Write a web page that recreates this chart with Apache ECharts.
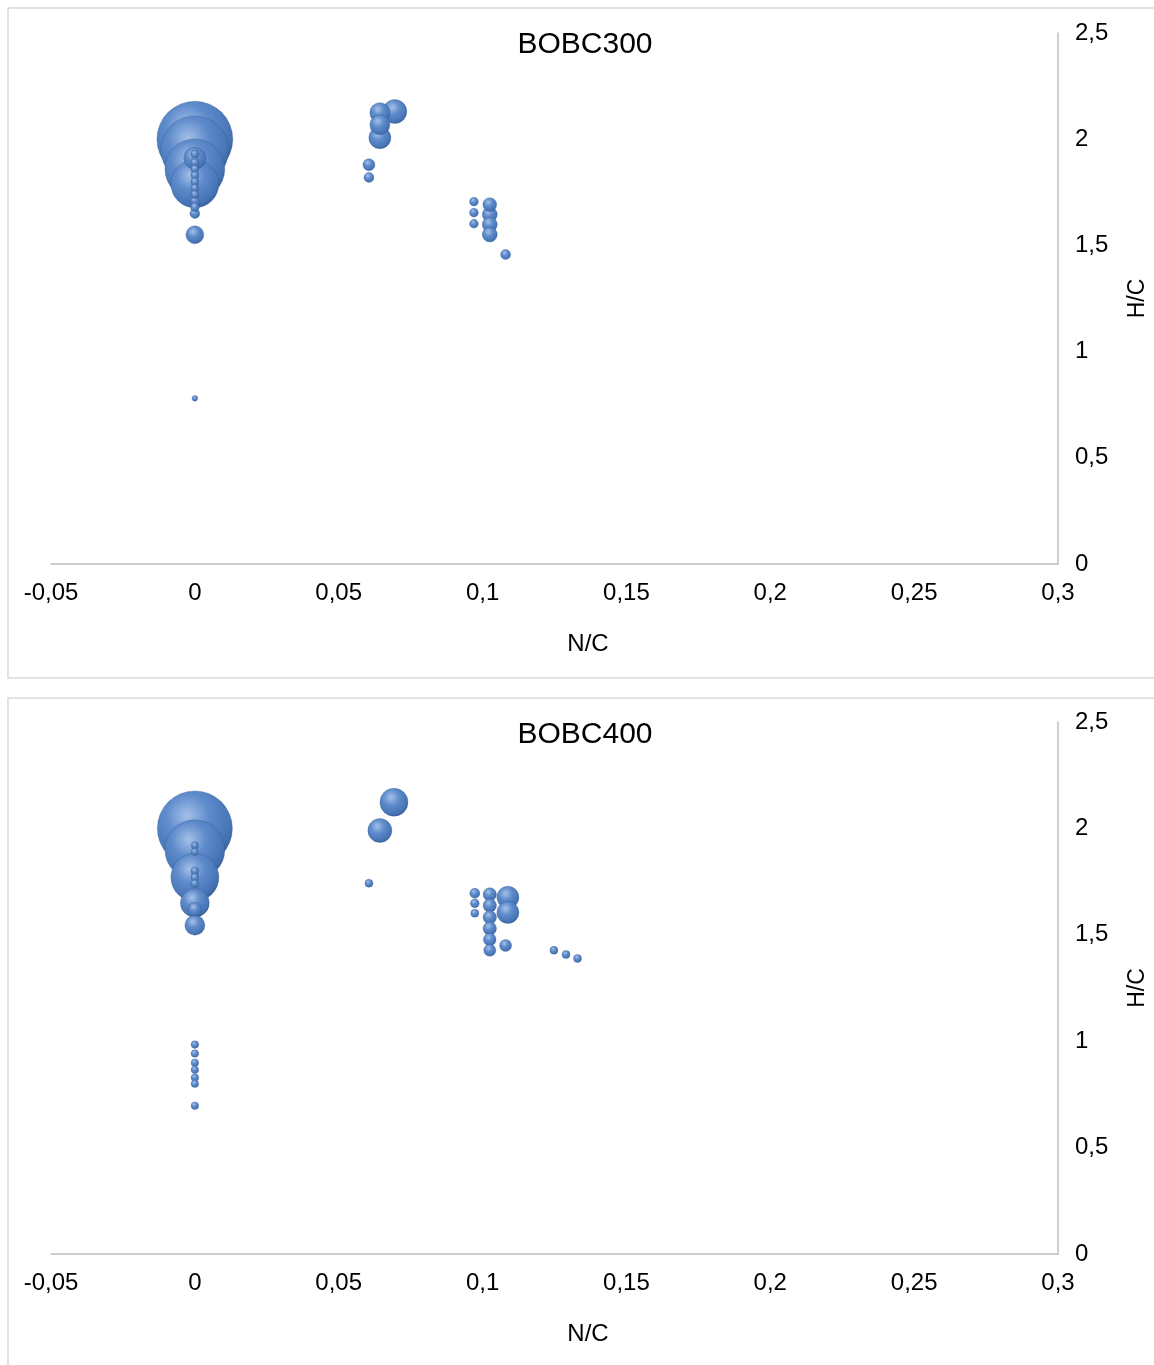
<!DOCTYPE html>
<html>
<head>
<meta charset="utf-8">
<title>BOBC300 / BOBC400 – H/C vs N/C</title>
<script src="https://cdn.jsdelivr.net/npm/echarts@6/dist/echarts.min.js"></script>
<style>
  html, body { margin: 0; padding: 0; background: #ffffff; }
  #chart { width: 1154px; height: 1365px; }
</style>
</head>
<body>
<div id="chart"></div>
<script>
// Axis ticks
const xTicks = [-0.05, 0, 0.05, 0.1, 0.15, 0.2, 0.25, 0.3];
const yTicks = [0, 0.5, 1, 1.5, 2, 2.5];

// Panel titles
const panelTitles = ['BOBC300', 'BOBC400'];

// Each point: [N/C, H/C, bubble size]
const bobc300 = [
  [0, 2.00, 90], [0, 1.95, 72], [0, 1.86, 56], [0, 1.79, 36], [0, 1.91, 7.6],
  [0, 1.93, 1], [0, 1.89, 1], [0, 1.86, 1], [0, 1.83, 1], [0, 1.80, 1],
  [0, 1.77, 1], [0, 1.74, 1], [0, 1.71, 1.2], [0, 1.68, 1.2], [0, 1.65, 1.5],
  [0, 1.55, 5], [0, 0.78, 0.5],
  [0.0695, 2.13, 9], [0.0643, 2.125, 6.25], [0.0643, 2.068, 6.25], [0.0643, 2.007, 7.6],
  [0.0605, 1.88, 2.25], [0.0605, 1.82, 1.56],
  [0.097, 1.706, 1.2], [0.097, 1.654, 1.2], [0.097, 1.602, 1.2],
  [0.1025, 1.692, 3], [0.1025, 1.645, 3.5], [0.1025, 1.598, 3.5], [0.1025, 1.551, 3.5],
  [0.108, 1.457, 1.56]
];

const bobc400 = [
  [0, 2.00, 88], [0, 1.90, 56], [0, 1.77, 36], [0, 1.65, 13], [0, 1.62, 3], [0, 1.545, 6.25],
  [0, 1.92, 0.8], [0, 1.89, 0.8], [0, 1.80, 1], [0, 1.77, 1], [0, 1.74, 1],
  [0, 0.984, 0.9], [0, 0.942, 0.9], [0, 0.899, 0.9], [0, 0.866, 0.9],
  [0, 0.829, 0.9], [0, 0.800, 0.9], [0, 0.697, 0.9],
  [0.0692, 2.123, 12.25], [0.0643, 1.99, 9], [0.0605, 1.742, 1],
  [0.0973, 1.695, 1.56], [0.0973, 1.648, 1.2], [0.0973, 1.601, 1],
  [0.1025, 1.69, 2.8], [0.1025, 1.638, 2.8], [0.1025, 1.582, 2.8],
  [0.1025, 1.530, 2.8], [0.1025, 1.478, 2.5], [0.1025, 1.427, 2.25],
  [0.1088, 1.676, 7.6], [0.1088, 1.605, 7.6], [0.108, 1.45, 2.25],
  [0.1248, 1.427, 1], [0.129, 1.408, 1], [0.133, 1.389, 1]
];

const FONT = "'Liberation Sans', Arial, sans-serif";
const fmt = v => String(+(+v).toFixed(2)).replace('.', ',');

// bubble area proportional to size
const diameter = d => 8 * Math.sqrt(d[2]);
// larger bubbles first so small ones sit on top
const bySizeDesc = arr => arr.slice().sort((a, b) => b[2] - a[2]);

const bubbleFill = {
  type: 'radial', x: 0.4, y: 0.33, r: 0.72,
  colorStops: [
    { offset: 0, color: '#a6c0e8' },
    { offset: 0.4, color: '#5e8bcb' },
    { offset: 0.82, color: '#4673b3' },
    { offset: 1, color: '#355c95' }
  ]
};

const grids = [
  { left: 51, width: 1007, top: 33, height: 531, outerBoundsMode: 'none', containLabel: false },
  { left: 51, width: 1007, top: 722, height: 532, outerBoundsMode: 'none', containLabel: false }
];

function xAxisFor(i) {
  return {
    gridIndex: i, type: 'value',
    min: xTicks[0], max: xTicks[xTicks.length - 1], interval: 0.05,
    axisLine: { show: true, onZero: false, lineStyle: { color: '#bfbfbf', width: 1.5 } },
    axisTick: { show: false },
    splitLine: { show: false },
    axisLabel: { formatter: fmt, color: '#000', fontSize: 24, fontFamily: FONT, margin: 17,
                 showMinLabel: true, showMaxLabel: true }
  };
}

function yAxisFor(i) {
  return {
    gridIndex: i, type: 'value', position: 'right',
    min: yTicks[0], max: yTicks[yTicks.length - 1], interval: 0.5,
    axisLine: { show: true, onZero: false, lineStyle: { color: '#bfbfbf', width: 1.5 } },
    axisTick: { show: false },
    splitLine: { show: false },
    axisLabel: { formatter: fmt, color: '#000', fontSize: 24, fontFamily: FONT, margin: 17 },
    name: 'H/C', nameLocation: 'middle', nameRotate: 90, nameGap: 68,
    nameTextStyle: { color: '#000', fontSize: 23, fontFamily: FONT }
  };
}

function seriesFor(i, data) {
  return {
    type: 'scatter', xAxisIndex: i, yAxisIndex: i,
    data: bySizeDesc(data),
    symbol: 'circle',
    symbolSize: diameter,
    itemStyle: { color: bubbleFill, opacity: 1, borderColor: 'rgba(45,80,135,0.5)', borderWidth: 0.6 },
    emphasis: { disabled: true },
    animation: false
  };
}

const panelTops = [8, 698];
const panelBottoms = [678, 1372];
const graphics = [];
panelTops.forEach((t, i) => {
  graphics.push({
    type: 'rect', silent: true, z: -1,
    shape: { x: 8, y: t, width: 1160, height: panelBottoms[i] - t },
    style: { fill: '#fff', stroke: '#d9d9d9', lineWidth: 1.5 }
  });
});
const titleY = [45, 735];
const nameY = [644, 1334];
panelTitles.forEach((txt, i) => {
  graphics.push({
    type: 'text', x: 585, y: titleY[i],
    style: { text: txt, font: '30px ' + FONT, fill: '#000', textAlign: 'center', textVerticalAlign: 'middle' }
  });
  graphics.push({
    type: 'text', x: 588, y: nameY[i],
    style: { text: 'N/C', font: '24px ' + FONT, fill: '#000', textAlign: 'center', textVerticalAlign: 'middle' }
  });
});

const chart = echarts.init(document.getElementById('chart'), null, { renderer: 'canvas' });
chart.setOption({
  animation: false,
  backgroundColor: '#fff',
  grid: grids,
  xAxis: [xAxisFor(0), xAxisFor(1)],
  yAxis: [yAxisFor(0), yAxisFor(1)],
  series: [seriesFor(0, bobc300), seriesFor(1, bobc400)],
  graphic: graphics
});
</script>
</body>
</html>
